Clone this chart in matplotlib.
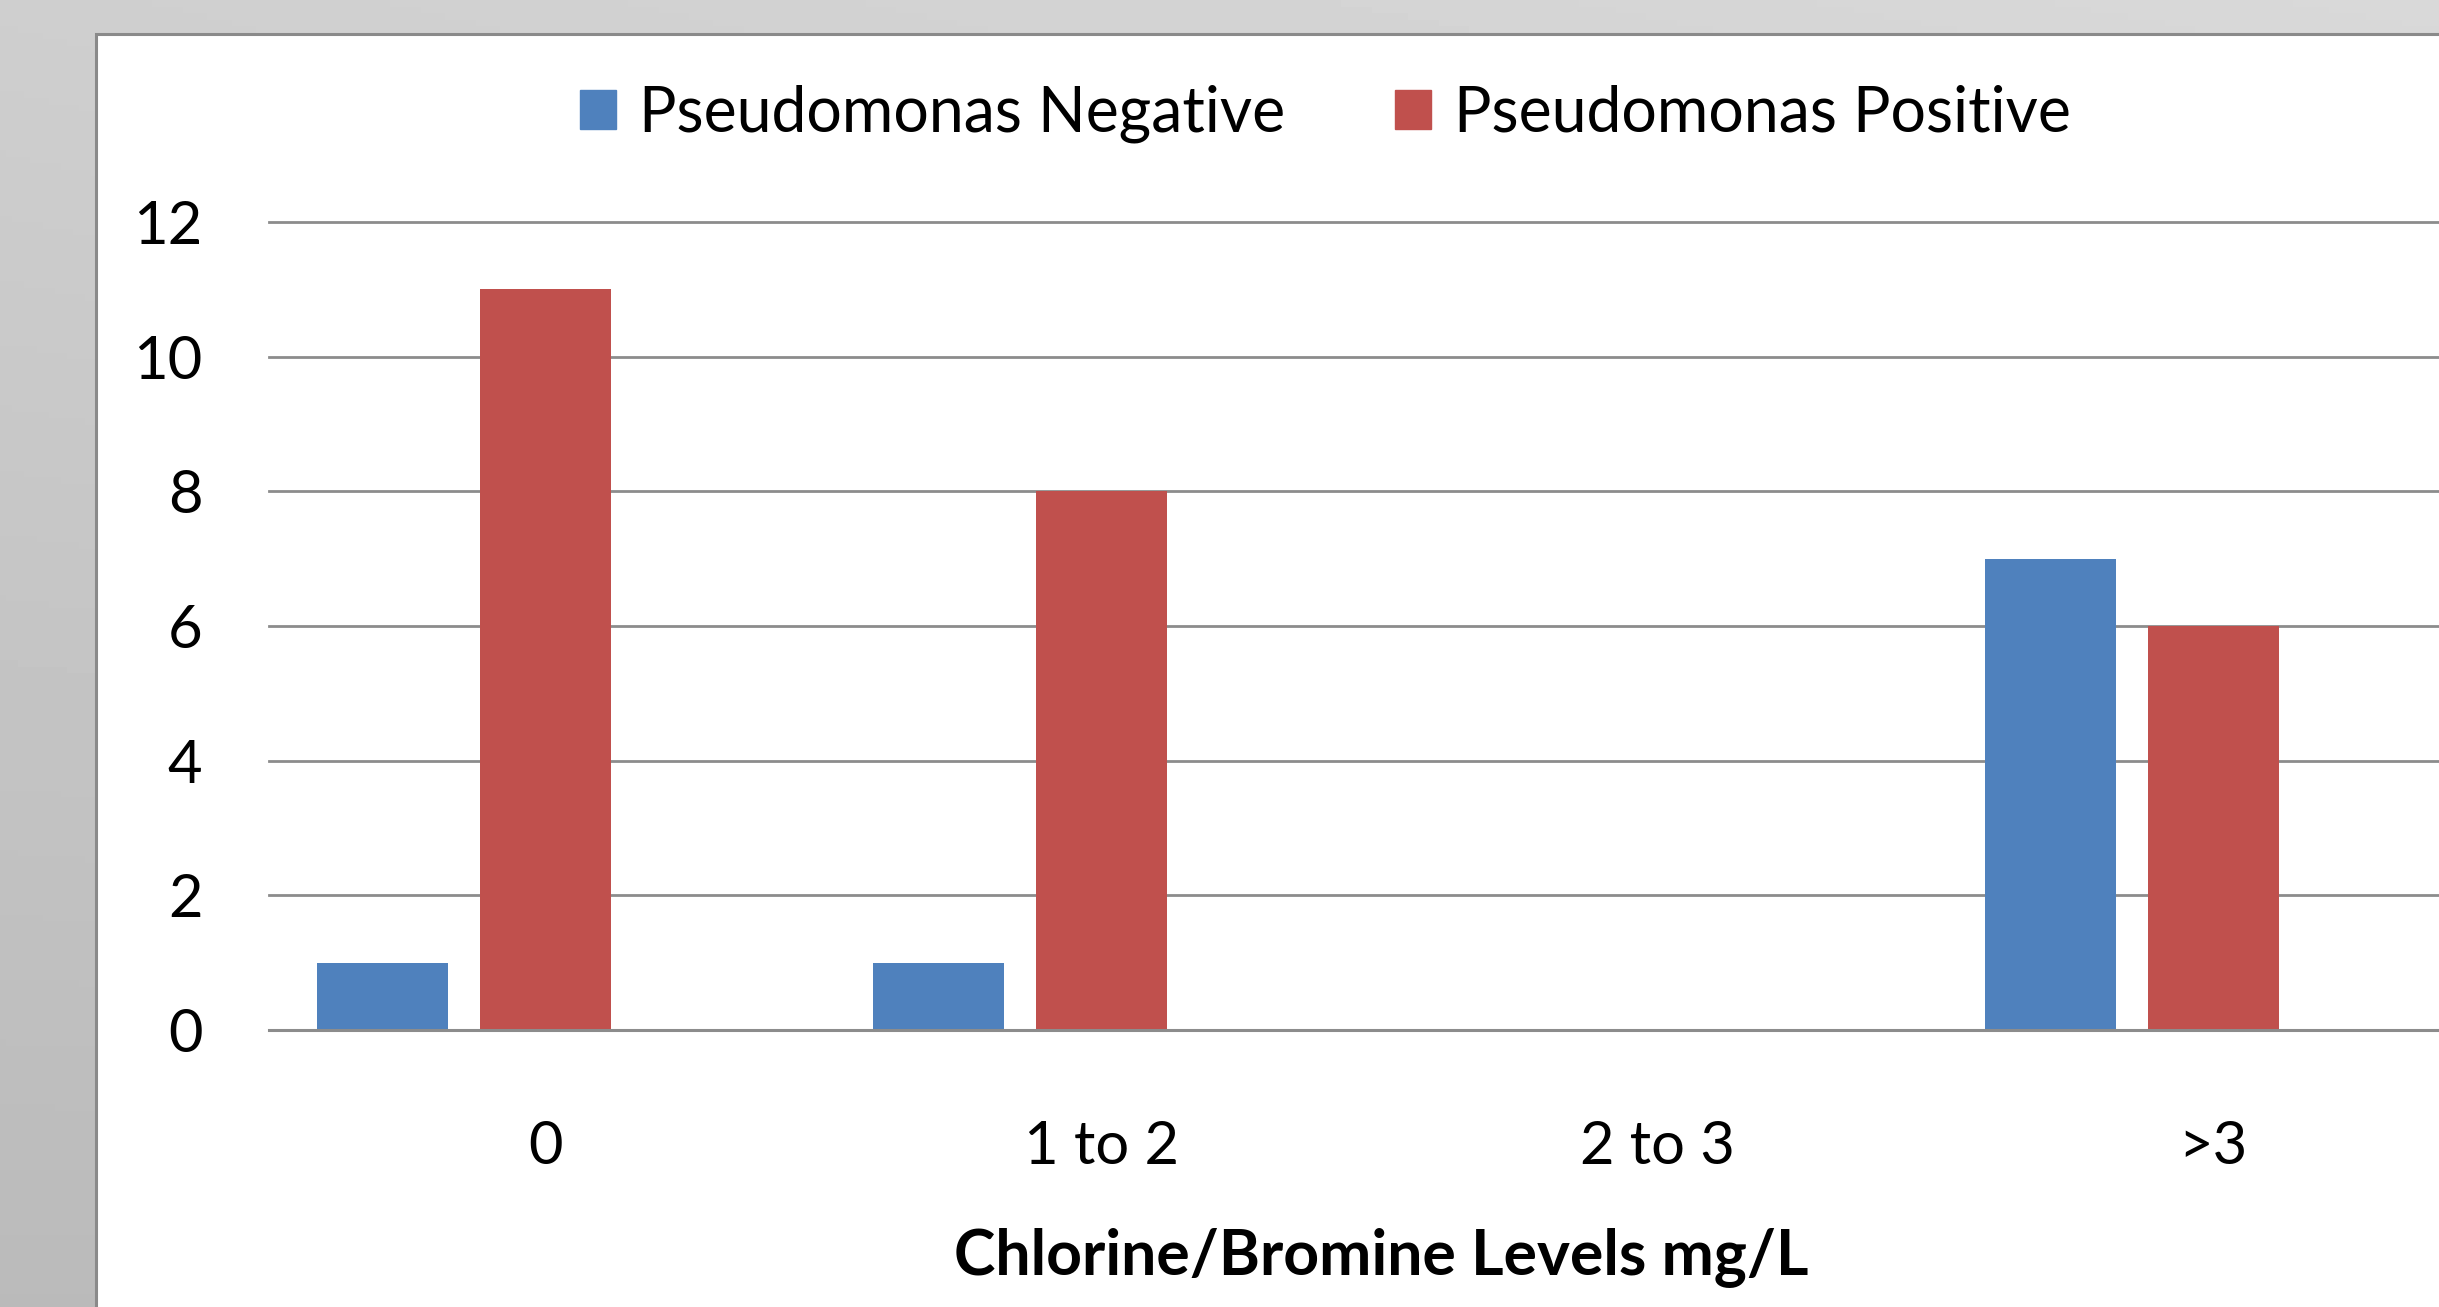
import numpy as np
import matplotlib
matplotlib.use("Agg")
import matplotlib.pyplot as plt
from matplotlib.patches import Rectangle

categories = ["0", "1 to 2", "2 to 3", ">3"]
negative = [1, 1, 0, 7]
positive = [11, 8, 0, 6]
series_names = ["Pseudomonas Negative", "Pseudomonas Positive"]
yticks = [0, 2, 4, 6, 8, 10, 12]
xlabel = "Chlorine/Bromine Levels mg/L"

BLUE = "#4F81BD"
RED = "#C0504D"
GRID = "#8C8C8C"

plt.rcParams['font.family'] = ['Lato', 'DejaVu Sans']
FS = 43
FS_LEG = 45
FS_XL = 45

W, H = 2439, 1307
fig = plt.figure(figsize=(W / 100, H / 100), dpi=100)

# background gradient (decor)
bg = fig.add_axes([0, 0, 1, 1], zorder=-10)
yy, xx = np.mgrid[0:1:200j, 0:1:400j]
shade = 0.81 - 0.08 * yy + 0.04 * xx * (1 - yy)
bg.imshow(shade, cmap="gray", vmin=0, vmax=1, aspect="auto", extent=[0, 1, 0, 1], origin="upper")
bg.set_xlim(0, 1); bg.set_ylim(0, 1); bg.axis("off")
# white panel
px0 = 96 / W
py1 = 1 - 34 / H
bg.add_patch(Rectangle((px0, -0.01), 1.1 - px0, py1 + 0.01, facecolor="white",
                       edgecolor="#8A8A8A", linewidth=2.2, zorder=2))

ax = fig.add_axes([269 / W, 1 - 1030 / H, 1 - 269 / W, (1030 - 222) / H])
ax.set_facecolor("none")
x = np.arange(len(categories))
bw = 0.2356
ax.bar(x - 0.293, negative, width=bw, color=BLUE, zorder=3, label=series_names[0])
ax.bar(x, positive, width=bw, color=RED, zorder=3, label=series_names[1])

ax.set_xlim(-0.497, 3.406)
ax.set_ylim(0, 12)
ax.set_yticks(yticks)
ax.set_yticklabels([str(v) for v in yticks], fontsize=FS)
ax.set_xticks(x)
ax.set_xticklabels(categories, fontsize=FS)
ax.tick_params(axis="y", length=0, pad=48)
ax.tick_params(axis="x", length=0, pad=65)
for s in ax.spines.values():
    s.set_visible(False)
ax.grid(axis="y", color=GRID, linewidth=2.0, zorder=1)
ax.set_axisbelow(True)
for gl in ax.get_ygridlines():
    gl.set_clip_on(False)
ax.axhline(0, color=GRID, linewidth=2.2, zorder=4, clip_on=False)

handles = [Rectangle((0, 0), 1, 1, color=BLUE), Rectangle((0, 0), 1, 1, color=RED)]
fig.legend(handles, series_names, loc="center", bbox_to_anchor=(0.5435, 1 - 114 / H),
           ncol=2, frameon=False, fontsize=FS_LEG, handlelength=0.57, handleheight=0.57,
           handletextpad=0.38, columnspacing=1.75)

fig.text(1381 / W, 1 - 1257 / H, xlabel, ha="center", va="center", fontsize=FS_XL,
         fontweight="bold")

fig.savefig("out.png", dpi=100)
